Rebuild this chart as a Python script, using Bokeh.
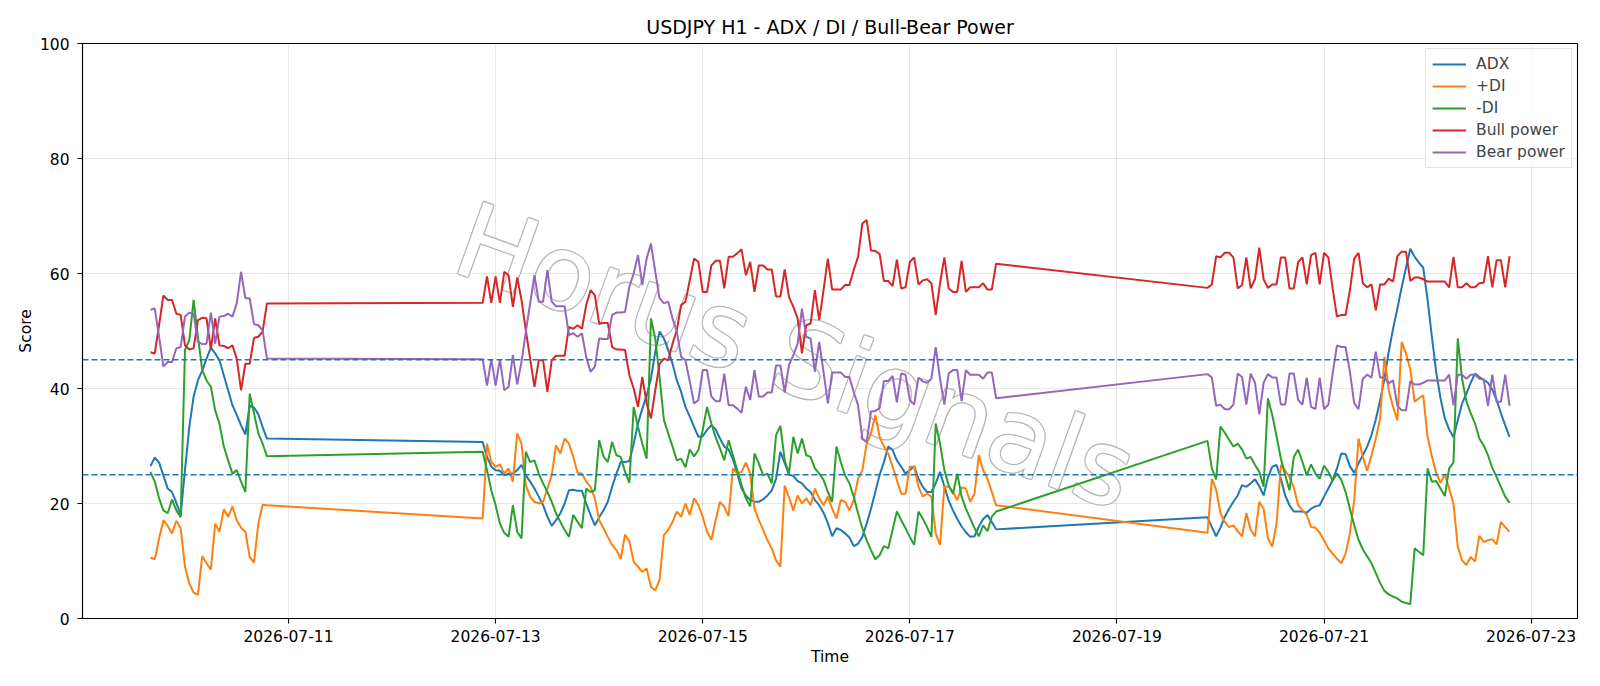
import pandas as pd
from bokeh.plotting import figure
from bokeh.models import (ColumnDataSource, Span, Legend, LegendItem, Label,
                          FixedTicker, DatetimeTickFormatter, Range1d)
from bokeh.embed import file_html
from bokeh.resources import INLINE

# Hourly trading sessions (weekend gaps between them)
sessions = [("2026-07-09 16:00", "2026-07-10 19:00"),
            ("2026-07-12 21:00", "2026-07-17 20:00"),
            ("2026-07-19 21:00", "2026-07-22 19:00")]

tick_dates = ["2026-07-11", "2026-07-13", "2026-07-15", "2026-07-17",
              "2026-07-19", "2026-07-21", "2026-07-23"]
y_ticks = [0, 20, 40, 60, 80, 100]
levels = [25, 45]

adx = [
    26.5, 28.0, 27.1, 24.9, 22.6, 22.0, 20.1, 18.0, 25.8, 33.3, 38.6, 41.4, 43.1, 45.2,
    47.1, 46.1, 44.9, 42.3, 39.7, 37.1, 35.4, 33.6, 32.0, 37.0, 36.7, 35.5, 33.3, 31.3,
    30.7, 28.1, 26.4, 25.8, 25.7, 24.9, 25.2, 25.2, 25.8, 26.7,
    24.9, 23.8, 22.6, 21.2, 19.7, 17.7, 16.1, 17.1, 18.3, 20.0,
    22.3, 22.4, 22.2, 22.2, 20.0, 18.0, 16.2, 17.6, 18.8, 20.3,
    22.9, 25.2, 27.2, 27.2, 27.4, 30.4, 33.9, 36.5, 38.8, 41.7,
    46.4, 49.9, 48.7, 46.7, 44.3, 41.4, 39.4, 36.8, 35.1, 33.3,
    31.6, 31.7, 32.8, 33.6, 32.9, 31.3, 29.9, 29.4, 27.7, 25.2,
    22.6, 21.4, 20.6, 20.3, 20.3, 20.7, 21.4, 22.3, 24.3, 29.0,
    27.0, 25.0, 24.8, 23.9, 23.5, 22.6, 22.0, 20.6, 19.7, 18.4,
    16.6, 14.3, 15.7, 15.4, 14.8, 14.1, 12.6, 13.0, 14.2, 16.5,
    19.1, 22.0, 25.0, 27.2, 29.9, 29.3, 27.5, 26.4, 25.2, 25.8,
    26.5, 24.3, 22.9, 22.0, 22.0, 23.5, 25.5, 23.0, 20.5, 18.8,
    17.3, 16.0, 15.0, 14.2, 14.3, 16.0, 17.3, 18.0, 16.8, 15.5,
    17.6, 15.9, 14.3, 15.8, 17.7, 19.1, 20.3, 21.4, 23.2, 22.9,
    23.5, 24.2, 23.0, 21.4, 24.5, 26.4, 26.7, 24.3, 21.4, 19.7,
    18.6, 18.6, 18.6, 18.4, 19.1, 19.5, 19.7, 21.2, 22.6, 24.0,
    26.1, 28.7, 28.6, 26.5, 25.3, 27.0, 28.4, 29.9, 31.9, 34.6,
    37.9, 41.7, 46.4, 50.4, 53.9, 57.6, 61.0, 64.3, 62.9, 61.9,
    61.0, 55.4, 49.0, 42.9, 38.3, 34.8, 32.9, 31.5, 34.5, 37.4,
    39.1, 41.0, 42.6, 42.0, 41.5, 41.0, 39.8, 38.0, 35.7, 33.6,
    31.6,
]

plus_di = [
    10.6, 10.3, 13.9, 17.1, 16.1, 14.8, 17.0, 15.7, 9.0, 6.1, 4.5, 4.1, 10.8, 9.6,
    8.5, 16.5, 15.1, 19.0, 17.7, 19.5, 17.1, 15.8, 15.1, 10.7, 9.7, 16.5, 19.8, 19.7,
    17.4, 30.4, 27.2, 26.4, 26.8, 25.2, 26.1, 23.8, 32.2, 30.4,
    23.2, 21.2, 20.3, 20.0, 20.3, 22.6, 24.9, 30.1, 28.7, 31.3,
    30.4, 28.1, 25.3, 25.2, 23.8, 22.9, 20.9, 17.1, 15.7, 14.2,
    12.8, 11.9, 10.4, 14.6, 13.4, 9.9, 9.0, 8.1, 8.7, 5.5,
    4.9, 6.7, 14.5, 15.4, 16.8, 18.6, 17.7, 20.0, 18.0, 20.9,
    19.7, 17.7, 15.1, 13.7, 17.1, 20.3, 19.4, 17.8, 26.1, 25.2,
    25.5, 27.1, 25.2, 19.1, 17.1, 15.4, 13.6, 12.2, 10.1, 9.0,
    23.1, 21.0, 18.8, 21.4, 20.0, 20.9, 19.7, 22.6, 20.9, 19.7,
    21.2, 19.1, 17.4, 20.6, 20.3, 18.8, 20.6, 24.3, 25.8, 30.4,
    32.2, 35.4, 31.6, 29.9, 28.7, 26.4, 24.1, 21.7, 21.7, 26.4,
    26.4, 22.9, 21.2, 21.7, 21.2, 14.8, 12.8, 22.9, 22.9, 22.0,
    20.6, 22.8, 22.6, 20.3, 21.7, 28.4, 25.8, 24.3, 22.0, 19.7,
    14.9, 24.3, 22.4, 18.3, 16.8, 15.9, 16.2, 15.2, 14.3, 18.3,
    15.4, 14.3, 20.3, 19.1, 13.9, 12.5, 16.5, 26.7, 25.7, 24.6,
    22.8, 19.7, 18.8, 18.0, 15.9, 15.8, 14.9, 13.6, 12.2, 11.3,
    10.4, 9.6, 11.3, 14.8, 20.6, 31.3, 28.1, 25.7, 28.4, 31.3,
    34.8, 45.5, 39.7, 36.8, 34.5, 48.1, 46.1, 43.3, 37.7, 38.3,
    38.8, 31.6, 28.2, 25.3, 23.6, 25.1, 22.6, 20.0, 12.5, 10.1,
    9.3, 10.7, 9.9, 14.4, 13.3, 13.6, 13.8, 12.9, 16.8, 15.9,
    15.1,
]

minus_di = [
    25.5, 23.8, 20.9, 18.8, 18.3, 20.7, 18.8, 17.6, 46.7, 48.4, 55.4, 49.0, 43.2, 41.4,
    40.3, 36.2, 33.9, 29.9, 27.5, 25.2, 25.8, 23.8, 22.0, 39.1, 35.7, 32.2, 30.4, 28.2,
    29.0, 25.8, 22.3, 19.7, 16.5, 14.9, 14.2, 19.7, 15.1, 13.9,
    29.0, 27.2, 27.5, 25.2, 23.5, 22.0, 20.3, 18.3, 16.8, 15.4,
    14.2, 18.0, 16.8, 15.7, 22.6, 22.0, 22.3, 31.0, 28.2, 27.2,
    30.7, 28.4, 28.1, 25.5, 23.6, 36.8, 33.3, 30.4, 27.8, 52.2,
    48.7, 42.0, 34.5, 32.2, 29.9, 27.5, 27.8, 26.3, 29.4, 28.2,
    29.3, 32.8, 36.8, 33.9, 31.5, 29.6, 27.5, 31.0, 28.4, 25.8,
    23.2, 20.9, 19.5, 28.7, 27.0, 24.9, 25.2, 23.5, 31.9, 33.5,
    27.5, 25.2, 31.6, 28.7, 31.3, 28.4, 28.1, 26.1, 25.2, 24.1,
    22.0, 20.3, 29.9, 27.2, 24.9, 23.5, 21.2, 18.3, 15.7, 13.6,
    11.9, 10.3, 11.0, 12.6, 12.2, 15.4, 18.6, 17.1, 15.7, 14.2,
    12.8, 18.6, 17.4, 15.9, 14.2, 33.9, 30.4, 25.8, 23.2, 21.7,
    25.2, 21.2, 19.1, 17.4, 15.7, 14.3, 16.2, 15.2, 17.7, 18.6,
    30.9, 26.1, 24.2, 33.4, 32.3, 31.1, 29.9, 30.4, 29.4, 27.8,
    28.1, 26.7, 25.5, 22.9, 38.3, 35.4, 31.7, 27.8, 24.9, 22.3,
    28.1, 29.4, 27.2, 24.9, 26.8, 25.2, 24.3, 26.6, 25.5, 24.0,
    25.2, 24.1, 22.0, 19.1, 16.2, 13.7, 12.0, 10.8, 9.6, 7.9,
    6.2, 4.8, 4.2, 3.8, 3.5, 2.9, 2.7, 2.5, 12.2, 11.6,
    11.0, 26.1, 23.8, 23.9, 22.6, 21.3, 26.1, 27.1, 48.7, 41.7,
    37.7, 35.7, 33.9, 31.3, 30.1, 28.4, 26.2, 24.6, 22.9, 21.2,
    20.1,
]

bull_power = [
    46.3, 46.1, 51.0, 56.2, 55.4, 55.4, 53.0, 52.8, 47.5, 46.8, 47.0, 51.9, 52.3, 52.2,
    46.8, 52.2, 47.5, 47.4, 47.0, 47.5, 45.2, 39.7, 44.3, 44.3, 48.8, 49.0, 49.9, 54.8,
    54.9, 59.5, 54.9, 59.5, 54.9, 60.3, 59.7, 54.2, 59.3, 55.4,
    50.1, 45.2, 40.3, 44.9, 44.9, 39.4, 44.9, 45.7, 45.7, 45.7,
    50.7, 50.4, 51.0, 50.4, 54.5, 57.1, 56.2, 51.3, 51.4, 51.4,
    47.2, 46.8, 46.8, 46.7, 42.3, 40.0, 36.8, 42.0, 37.4, 34.8,
    39.7, 44.3, 45.2, 44.9, 47.8, 50.1, 54.5, 55.1, 58.8, 62.6,
    62.0, 56.8, 56.8, 61.4, 62.2, 62.2, 57.4, 62.9, 62.9, 63.5,
    64.2, 59.7, 62.0, 56.8, 61.4, 61.4, 60.7, 60.7, 56.0, 56.0,
    60.7, 55.9, 54.2, 52.2, 46.1, 51.0, 51.3, 57.1, 51.9, 57.1,
    62.6, 57.2, 57.2, 57.2, 58.0, 58.0, 60.6, 62.9, 68.7, 69.3,
    64.0, 63.9, 63.4, 58.7, 58.7, 57.8, 62.4, 57.4, 57.6, 62.0,
    62.8, 58.1, 58.8, 59.0, 58.3, 52.8, 58.3, 62.8, 57.4, 56.8,
    56.8, 62.2, 56.8, 57.6, 57.6, 57.6, 58.3, 57.2, 57.2, 61.7,
    57.5, 58.1, 63.0, 62.8, 63.6, 63.6, 62.8, 57.4, 58.0, 62.8,
    57.4, 59.0, 64.5, 59.0, 57.5, 58.1, 58.1, 62.8, 62.8, 57.4,
    57.4, 62.0, 62.8, 58.1, 63.2, 63.6, 58.1, 63.6, 62.8, 57.4,
    52.5, 52.8, 52.8, 57.1, 62.6, 63.6, 58.3, 57.6, 58.1, 53.6,
    58.1, 58.1, 59.1, 58.6, 63.0, 63.8, 63.8, 58.7, 59.3, 59.3,
    59.0, 58.6, 58.6, 58.6, 58.6, 58.6, 57.6, 62.9, 57.6, 57.6,
    58.3, 57.6, 57.6, 58.3, 58.4, 63.0, 57.6, 62.3, 62.3, 57.6,
    63.0,
]

bear_power = [
    53.7, 53.9, 49.0, 43.8, 44.6, 44.6, 47.0, 47.2, 52.5, 53.2, 53.0, 48.1, 47.7, 47.8,
    53.2, 47.8, 52.5, 52.6, 53.0, 52.5, 54.8, 60.3, 55.7, 55.7, 51.2, 51.0, 50.1, 45.2,
    45.1, 40.5, 45.1, 40.5, 45.1, 39.7, 40.3, 45.8, 40.7, 44.6,
    49.9, 54.8, 59.7, 55.1, 55.1, 60.6, 55.1, 54.3, 54.3, 54.3,
    49.3, 49.6, 49.0, 49.6, 45.5, 42.9, 43.8, 48.7, 48.6, 48.6,
    52.8, 53.2, 53.2, 53.3, 57.7, 60.0, 63.2, 58.0, 62.6, 65.2,
    60.3, 55.7, 54.8, 55.1, 52.2, 49.9, 45.5, 44.9, 41.2, 37.4,
    38.0, 43.2, 43.2, 38.6, 37.8, 37.8, 42.6, 37.1, 37.1, 36.5,
    35.8, 40.3, 38.0, 43.2, 38.6, 38.6, 39.3, 39.3, 44.0, 44.0,
    39.3, 44.1, 45.8, 47.8, 53.9, 49.0, 48.7, 42.9, 48.1, 42.9,
    37.4, 42.8, 42.8, 42.8, 42.0, 42.0, 39.4, 37.1, 31.3, 30.7,
    36.0, 36.1, 36.6, 41.3, 41.3, 42.2, 37.6, 42.6, 42.4, 38.0,
    37.2, 41.9, 41.2, 41.0, 41.7, 47.2, 41.7, 37.2, 42.6, 43.2,
    43.2, 37.8, 43.2, 42.4, 42.4, 42.4, 41.7, 42.8, 42.8, 38.3,
    42.5, 41.9, 37.0, 37.2, 36.4, 36.4, 37.2, 42.6, 42.0, 37.2,
    42.6, 41.0, 35.5, 41.0, 42.5, 41.9, 41.9, 37.2, 37.2, 42.6,
    42.6, 38.0, 37.2, 41.9, 36.8, 36.4, 41.9, 36.4, 37.2, 42.6,
    47.5, 47.2, 47.2, 42.9, 37.4, 36.4, 41.7, 42.4, 41.9, 46.4,
    41.9, 41.9, 40.9, 41.4, 37.0, 36.2, 36.2, 41.3, 40.7, 40.7,
    41.0, 41.4, 41.4, 41.4, 41.4, 41.4, 42.4, 37.1, 42.4, 42.4,
    41.7, 42.4, 42.4, 41.7, 41.6, 37.0, 42.4, 37.7, 37.7, 42.4,
    37.0,
]

times = []
for start, end in sessions:
    times.extend(pd.date_range(start, end, freq="h"))
times = pd.DatetimeIndex(times)

source = ColumnDataSource(dict(time=times, adx=adx, plus_di=plus_di,
                               minus_di=minus_di, bull=bull_power, bear=bear_power))

FONT = "DejaVu Sans"
TICK_SIZE = "15.5px"
pad = (times[-1] - times[0]) * 0.05

p = figure(width=1600, height=686, x_axis_type="datetime",
           output_backend="svg", toolbar_location=None,
           x_range=Range1d(times[0] - pad, times[-1] + pad),
           y_range=Range1d(0, 100),
           min_border_left=82, min_border_right=23,
           min_border_top=43, min_border_bottom=68)

p.title.text = "USDJPY H1 - ADX / DI / Bull-Bear Power"
p.title.align = "center"
p.title.text_font = FONT
p.title.text_font_size = "19px"
p.title.text_font_style = "normal"
p.title.text_color = "black"
p.title.standoff = 11

p.background_fill_color = "white"
p.border_fill_color = "white"
p.outline_line_color = "black"
p.outline_line_width = 1.1
p.outline_line_alpha = 1.0

p.xaxis.ticker = FixedTicker(ticks=[pd.Timestamp(d).value / 1e6 for d in tick_dates])
fmt = "%Y-%m-%d"
p.xaxis.formatter = DatetimeTickFormatter(days=fmt, months=fmt, hours=fmt, years=fmt)
p.yaxis.ticker = FixedTicker(ticks=y_ticks)
p.xaxis.axis_label = "Time"
p.yaxis.axis_label = "Score"

for ax in (p.xaxis[0], p.yaxis[0]):
    ax.axis_label_text_font = FONT
    ax.axis_label_text_font_size = TICK_SIZE
    ax.axis_label_text_font_style = "normal"
    ax.axis_label_text_color = "black"
    ax.major_label_text_font = FONT
    ax.major_label_text_font_size = TICK_SIZE
    ax.major_label_text_color = "black"
    ax.axis_line_color = "black"
    ax.axis_line_width = 1.1
    ax.major_tick_line_color = "black"
    ax.major_tick_line_width = 1.1
    ax.major_tick_out = 5
    ax.major_tick_in = 0
    ax.minor_tick_line_color = None
    ax.major_label_standoff = 6
p.yaxis[0].major_label_standoff = 8
p.yaxis[0].axis_label_standoff = 2
p.xaxis[0].axis_label_standoff = 3

p.grid.grid_line_color = "#b0b0b0"
p.grid.grid_line_alpha = 0.3
p.grid.grid_line_width = 1

# Watermark: a grey halo built from offset copies, hollowed by a white copy
wm = dict(x=pd.Timestamp("2026-07-15 21:30"), y=45.6, text="Horus Signals",
          angle=-0.345, text_align="center", text_baseline="middle",
          text_font=FONT, text_font_size="104px", level="underlay")
for dx, dy in [(-1.3, 0), (1.3, 0), (0, -1.3), (0, 1.3),
               (-0.9, -0.9), (0.9, 0.9), (-0.9, 0.9), (0.9, -0.9)]:
    p.add_layout(Label(x_offset=dx, y_offset=dy, text_color="#b8b8b8", **wm))
p.add_layout(Label(text_color="white", **wm))

colors = ["#1f77b4", "#ff7f0e", "#2ca02c", "#d62728", "#9467bd"]
fields = ["adx", "plus_di", "minus_di", "bull", "bear"]
labels = ["ADX", "+DI", "-DI", "Bull power", "Bear power"]
items = []
for f, c, lab in zip(fields, colors, labels):
    r = p.line("time", f, source=source, line_color=c, line_width=2)
    items.append(LegendItem(label=lab, renderers=[r]))

for lv in levels:
    p.add_layout(Span(location=lv, dimension="width", line_color="#1f77b4",
                      line_dash="6 3", line_width=1.4))

legend = Legend(items=items, location="top_right")
legend.margin = 5
legend.padding = 6
legend.spacing = 4
legend.label_height = 18
legend.glyph_height = 18
legend.glyph_width = 34
legend.label_standoff = 10
legend.border_line_color = "#cccccc"
legend.border_line_width = 1
legend.background_fill_alpha = 0.8
legend.label_text_font = FONT
legend.label_text_font_size = TICK_SIZE
p.add_layout(legend)

open("out.html", "w").write(file_html(p, INLINE))
